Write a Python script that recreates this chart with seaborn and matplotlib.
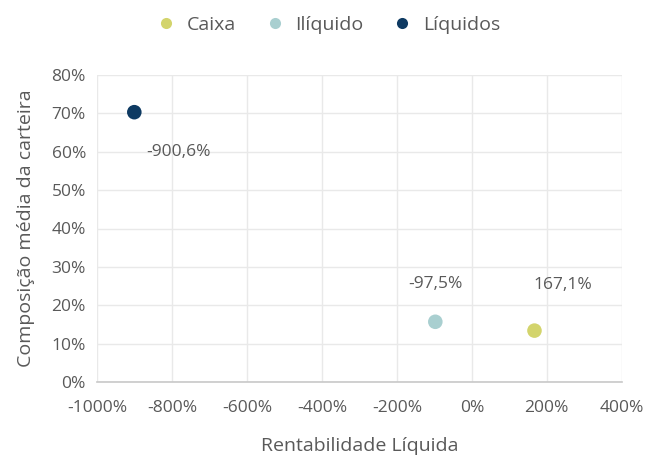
import matplotlib
matplotlib.use("Agg")
import matplotlib.pyplot as plt
import seaborn as sns
import pandas as pd
from matplotlib.ticker import FuncFormatter, MultipleLocator
from matplotlib.lines import Line2D

categorias = ["Caixa", "Ilíquido", "Líquidos"]
rentabilidade = [167.1, -97.5, -900.6]   # % rentabilidade líquida
composicao = [13.4, 15.7, 70.3]          # % composição média da carteira
cores = ["#d3d46c", "#a9cfd0", "#0e3a62"]

df = pd.DataFrame({"categoria": categorias, "rent": rentabilidade, "comp": composicao})

sns.set_theme(style="white")
plt.rcParams["font.family"] = ["Open Sans", "DejaVu Sans"]
texto = "#595959"

fig = plt.figure(figsize=(6.47, 4.57), dpi=100)
ax = fig.add_axes([0.150, 0.164, 0.811, 0.672])

sns.scatterplot(data=df, x="rent", y="comp", hue="categoria", hue_order=categorias,
                palette=cores, s=110, edgecolor="none", ax=ax, legend=False, zorder=3)

ax.set_xlim(-1000, 400)
ax.set_ylim(0, 80)
ax.xaxis.set_major_locator(MultipleLocator(200))
ax.yaxis.set_major_locator(MultipleLocator(10))
ax.xaxis.set_major_formatter(FuncFormatter(lambda v, p: f"{v:.0f}%".replace("\u2212", "-")))
ax.yaxis.set_major_formatter(FuncFormatter(lambda v, p: f"{v:.0f}%"))
ax.grid(True, color="#e9e9e9", linewidth=1)
ax.set_axisbelow(True)
for s in ["top", "right", "left"]:
    ax.spines[s].set_visible(False)
ax.spines["bottom"].set_color("#c8c8c8")
ax.spines["bottom"].set_linewidth(1.2)
ax.tick_params(axis="both", length=0, labelsize=12.5, colors=texto)
ax.tick_params(axis="y", pad=8)
ax.tick_params(axis="x", pad=13)

ax.set_xlabel("Rentabilidade Líquida", fontsize=14, color=texto, labelpad=15)
ax.set_ylabel("Composição média da carteira", fontsize=14, color=texto, labelpad=12)

# Rótulos de valor com vírgula decimal
offsets = {"Caixa": (28, 46), "Ilíquido": (0, 38), "Líquidos": (44, -40)}
for cat, x, y in zip(categorias, rentabilidade, composicao):
    dx, dy = offsets[cat]
    ax.annotate(f"{x:.1f}%".replace(".", ","), (x, y), xytext=(dx, dy),
                textcoords="offset pixels",
                ha="center", va="center", fontsize=12.5, color=texto)

# Legenda no topo
handles = [Line2D([], [], marker="o", linestyle="", markersize=8, color=c,
                  markeredgecolor="none") for c in cores]
fig.legend(handles, categorias, loc="center", bbox_to_anchor=(0.5, 0.945), ncol=3,
           frameon=False, fontsize=14, handletextpad=0.05, columnspacing=1.0,
           labelcolor=texto)

fig.savefig("out.png", dpi=100)
